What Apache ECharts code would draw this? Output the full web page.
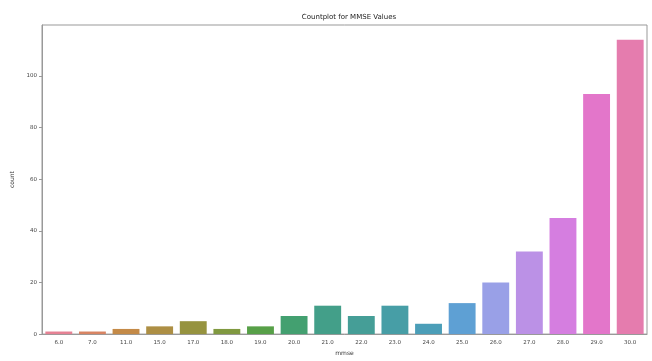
<!DOCTYPE html>
<html>
<head>
<meta charset="utf-8">
<script src="https://cdn.jsdelivr.net/npm/echarts@6/dist/echarts.min.js"></script>
<style>html,body{margin:0;padding:0;background:#fff;}#c{width:652px;height:361px;}</style>
</head>
<body>
<div id="c"></div>
<script>
const categories = ['6.0','7.0','11.0','15.0','17.0','18.0','19.0','20.0','21.0','22.0','23.0','24.0','25.0','26.0','27.0','28.0','29.0','30.0'];
const counts = [1,1,2,3,5,2,3,7,11,7,11,4,12,20,32,45,93,114];
const yTicks = [0,20,40,60,80,100];
const basePalette = ['#f77189','#ec7b4f','#d98b32','#bf9632','#a4a031','#86a831','#4daf39','#33b070','#34ae91','#36ada4','#37abb6','#39a8ca','#4aa3e8','#8c95f4','#bb83f4','#e26ef0','#f564d4','#f66bad'];

function desat(hex, p) {
  let r = parseInt(hex.substr(1,2),16)/255, g = parseInt(hex.substr(3,2),16)/255, b = parseInt(hex.substr(5,2),16)/255;
  const mx = Math.max(r,g,b), mn = Math.min(r,g,b);
  let h = 0, s = 0, l = (mx+mn)/2;
  if (mx !== mn) {
    const d = mx - mn;
    s = l > 0.5 ? d/(2-mx-mn) : d/(mx+mn);
    if (mx === r) h = (g-b)/d + (g<b?6:0);
    else if (mx === g) h = (b-r)/d + 2;
    else h = (r-g)/d + 4;
    h /= 6;
  }
  s *= p;
  function hue2rgb(p1,q,t){ if(t<0)t+=1; if(t>1)t-=1; if(t<1/6)return p1+(q-p1)*6*t; if(t<1/2)return q; if(t<2/3)return p1+(q-p1)*(2/3-t)*6; return p1; }
  let rr,gg,bb;
  if (s === 0) { rr=gg=bb=l; } else {
    const q = l < 0.5 ? l*(1+s) : l+s-l*s; const p1 = 2*l-q;
    rr = hue2rgb(p1,q,h+1/3); gg = hue2rgb(p1,q,h); bb = hue2rgb(p1,q,h-1/3);
  }
  const toHex = v => ('0'+Math.round(v*255).toString(16)).slice(-2);
  return '#'+toHex(rr)+toHex(gg)+toHex(bb);
}
const colors = basePalette.map(c => desat(c, 0.75));

const chart = echarts.init(document.getElementById('c'));
const font = 'DejaVu Sans';
chart.setOption({
  animation: false,
  backgroundColor: '#fff',
  title: {
    text: 'Countplot for MMSE Values',
    left: 344, top: 9, textAlign: 'center',
    textStyle: { fontFamily: font, fontSize: 7, fontWeight: 'normal', color: '#222' }
  },
  grid: { left: 42, right: 5, top: 25, bottom: 21, show: true, borderColor: '#999', borderWidth: 1, backgroundColor: 'transparent' },
  xAxis: {
    type: 'category',
    data: categories,
    name: 'mmse', nameLocation: 'middle', nameGap: 13,
    nameTextStyle: { fontFamily: font, fontSize: 6, color: '#333' },
    axisLine: { lineStyle: { color: '#999', width: 1 } },
    axisTick: { alignWithLabel: true, length: 3, lineStyle: { color: '#999' } },
    axisLabel: { fontFamily: font, fontSize: 5.5, color: '#444', margin: 5 }
  },
  yAxis: {
    type: 'value',
    min: 0, max: 119.7, interval: 20,
    name: 'count', nameLocation: 'middle', nameGap: 26,
    nameTextStyle: { fontFamily: font, fontSize: 6, color: '#333' },
    axisLine: { show: true, lineStyle: { color: '#999', width: 1 } },
    axisTick: { show: true, length: 3, lineStyle: { color: '#999' }, customValues: yTicks },
    axisLabel: { fontFamily: font, fontSize: 5.5, color: '#444', margin: 5, customValues: yTicks },
    splitLine: { show: false }
  },
  series: [{
    type: 'bar',
    data: counts.map((v, i) => ({ value: v, itemStyle: { color: colors[i] } })),
    barCategoryGap: '20%'
  }]
});
</script>
</body>
</html>
